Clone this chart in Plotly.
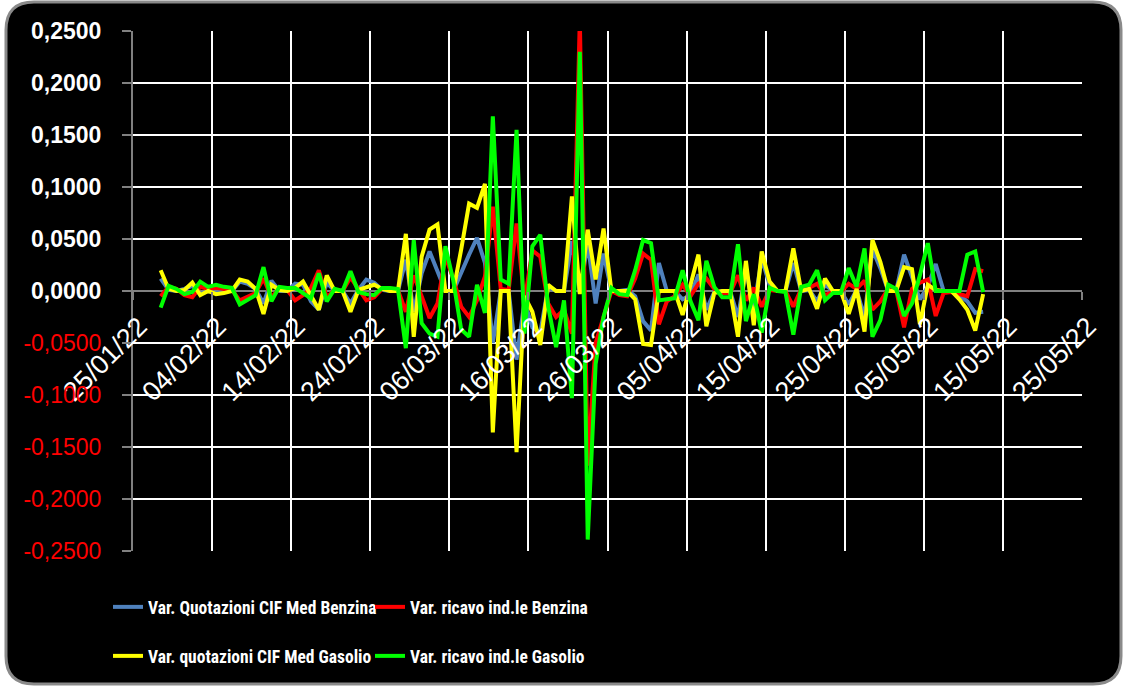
import pandas as pd
import plotly.graph_objects as go

# ---------------- data ----------------
dates = pd.date_range("2022-01-28", "2022-05-12", freq="D")

benzina_quot = [
    0.012, 0.001, 0.000,
    0.002, 0.005, -0.003, 0.000, -0.002, 0.000, 0.000,
    0.009, 0.007, 0.002, -0.012, 0.010, 0.000, 0.000,
    0.007, 0.006, -0.010, -0.018, 0.008, 0.000, 0.000,
    -0.012, 0.001, 0.011, 0.008, 0.001, 0.000, 0.000,
    0.030, -0.020, 0.017, 0.038, 0.020, 0.000, 0.000,
    0.018, 0.035, 0.051, 0.027, -0.050, 0.000, 0.000,
    -0.066, -0.010, -0.035, -0.040, 0.004, 0.000, 0.000,
    0.048, -0.002, 0.046, -0.012, 0.036, 0.000, 0.000,
    0.001, -0.005, -0.029, -0.038, 0.027, 0.000, 0.000,
    -0.008, -0.004, 0.016, -0.018, -0.001, 0.000, 0.000,
    -0.025, 0.020, -0.016, 0.031, 0.006, 0.000, 0.000,
    0.027, 0.000, 0.001, -0.010, 0.006, 0.000, 0.000,
    -0.013, 0.001, -0.025, 0.040, 0.022, 0.000, 0.000,
    0.035, 0.012, -0.008, 0.004, 0.026, 0.000, 0.000,
    -0.004, -0.010, -0.021, -0.020,
]

benzina_ricavo = [
    -0.005, 0.004, 0.002,
    -0.004, -0.006, 0.004, 0.002, 0.003, 0.002, 0.001,
    -0.009, -0.006, -0.002, 0.012, -0.006, 0.002, 0.001,
    -0.009, -0.004, 0.003, 0.020, -0.006, 0.001, 0.000,
    0.013, 0.002, -0.009, -0.006, 0.002, 0.002, 0.001,
    -0.020, 0.015, -0.005, -0.026, -0.012, 0.033, 0.012,
    -0.015, -0.025, -0.009, 0.014, 0.081, 0.002, 0.001,
    0.065, -0.010, 0.039, 0.033, -0.012, -0.025, -0.018,
    -0.041, 0.262, -0.168, -0.050, -0.025, 0.000, -0.004,
    -0.005, 0.012, 0.036, 0.030, -0.032, -0.010, -0.005,
    0.006, -0.005, 0.007, 0.012, 0.002, -0.002, -0.002,
    0.015, -0.009, 0.003, -0.015, 0.001, 0.000, 0.000,
    -0.015, 0.002, 0.003, 0.007, -0.004, -0.001, -0.001,
    0.007, 0.002, 0.010, -0.018, -0.010, 0.002, 0.001,
    -0.035, 0.002, 0.008, 0.011, -0.024, -0.002, -0.001,
    -0.003, -0.005, 0.021, 0.019,
]

gasolio_quot = [
    0.020, 0.002, 0.000,
    0.001, 0.008, -0.004, 0.000, -0.003, -0.002, 0.000,
    0.011, 0.009, 0.002, -0.022, 0.006, 0.001, 0.000,
    0.003, 0.009, -0.005, -0.018, 0.015, 0.000, 0.000,
    -0.020, 0.001, 0.004, 0.006, 0.002, 0.000, 0.000,
    0.055, -0.044, 0.033, 0.059, 0.064, 0.000, 0.000,
    0.040, 0.084, 0.080, 0.103, -0.136, 0.000, 0.000,
    -0.155, -0.005, -0.020, -0.052, 0.006, 0.000, 0.000,
    0.091, -0.003, 0.059, 0.011, 0.060, 0.000, 0.000,
    0.000, -0.008, -0.051, -0.052, 0.000, 0.000, 0.000,
    -0.023, 0.008, 0.035, -0.034, -0.002, 0.000, 0.000,
    -0.044, 0.029, -0.033, 0.038, 0.009, 0.000, 0.000,
    0.041, 0.000, 0.002, -0.017, 0.012, 0.000, 0.000,
    -0.022, 0.002, -0.039, 0.049, 0.028, 0.000, 0.000,
    0.023, 0.021, -0.032, 0.006, 0.001, 0.000, 0.000,
    -0.008, -0.018, -0.038, -0.003,
]

gasolio_ricavo = [
    -0.016, 0.005, 0.002,
    -0.003, -0.001, 0.009, 0.004, 0.006, 0.004, 0.003,
    -0.013, -0.008, -0.004, 0.023, -0.010, 0.004, 0.003,
    0.003, -0.002, -0.007, 0.017, -0.010, 0.002, 0.000,
    0.019, -0.001, -0.003, -0.004, 0.003, 0.003, 0.002,
    -0.055, 0.049, -0.031, -0.041, -0.044, 0.043, 0.010,
    -0.037, -0.044, 0.006, -0.021, 0.168, 0.011, 0.007,
    0.155, -0.041, 0.043, 0.054, -0.015, -0.054, -0.009,
    -0.103, 0.230, -0.239, -0.070, -0.025, 0.003, -0.003,
    -0.004, 0.020, 0.049, 0.046, -0.009, -0.008, -0.007,
    0.020, -0.010, -0.028, 0.029, 0.004, -0.006, -0.006,
    0.045, -0.029, -0.003, -0.040, 0.003, 0.000, -0.001,
    -0.042, 0.004, 0.006, 0.020, -0.009, -0.002, -0.002,
    0.022, 0.004, 0.041, -0.044, -0.028, 0.006, 0.002,
    -0.024, -0.012, 0.015, 0.046, 0.000, 0.000, 0.000,
    0.000, 0.035, 0.038, -0.001,
]

series_names = [
    "Var. Quotazioni CIF Med Benzina",
    "Var. ricavo ind.le Benzina",
    "Var. quotazioni CIF Med Gasolio",
    "Var. ricavo ind.le Gasolio",
]

y_tickvals = [0.25, 0.20, 0.15, 0.10, 0.05, 0.0, -0.05, -0.10, -0.15, -0.20, -0.25]
y_ticklabels = ["0,2500", "0,2000", "0,1500", "0,1000", "0,0500", "0,0000",
                "-0,0500", "-0,1000", "-0,1500", "-0,2000", "-0,2500"]

# ---------------- figure ----------------
W, H = 1128, 686
L, R, T, B = 133, 46, 31, 135

colors = ["#4F81BD", "#FF0000", "#FFFF00", "#00FF00"]
values = [benzina_quot, benzina_ricavo, gasolio_quot, gasolio_ricavo]
legends = ["legend", "legend2", "legend3", "legend4"]

fig = go.Figure()
for name, vals, col, lg in zip(series_names, values, colors, legends):
    fig.add_trace(go.Scatter(
        x=dates, y=vals, name=name, mode="lines",
        line=dict(color=col, width=4),
        xperiod=86400000, xperiodalignment="middle",
        legend=lg,
    ))

ticktext = []
for v, t in zip(y_tickvals, y_ticklabels):
    if v < 0:
        ticktext.append(f"<span style='color:#FF0000'>{t}</span>")
    else:
        ticktext.append(f"<b>{t}</b>")


def px2x(px):
    return (px - L) / (W - L - R)


def py2y(py):
    return (H - B - py) / (H - T - B)


x0, y0, x1, y1, r = 6, 2, 1121, 684, 28
pts = [
    ("M", [(x0 + r, y0)]), ("L", [(x1 - r, y0)]), ("Q", [(x1, y0), (x1, y0 + r)]),
    ("L", [(x1, y1 - r)]), ("Q", [(x1, y1), (x1 - r, y1)]),
    ("L", [(x0 + r, y1)]), ("Q", [(x0, y1), (x0, y1 - r)]),
    ("L", [(x0, y0 + r)]), ("Q", [(x0, y0), (x0 + r, y0)]),
]
path = ""
for cmd, ps in pts:
    path += cmd + " " + " ".join(f"{px2x(a):.5f},{py2y(b):.5f}" for a, b in ps) + " "
path += "Z"

fig.add_shape(type="path", path=path, xref="paper", yref="paper",
              fillcolor="black", line=dict(color="#8a8a8a", width=3), layer="below")

fig.update_layout(
    width=W, height=H,
    margin=dict(l=L, r=R, t=T, b=B, pad=0, autoexpand=False),
    paper_bgcolor="white",
    plot_bgcolor="black",
    showlegend=True,
    xaxis=dict(
        type="date",
        range=["2022-01-25", "2022-05-25"],
        tick0="2022-01-25", dtick=86400000 * 10,
        tickformat="%d/%m/%y", tickangle=-45,
        anchor="free", position=0.5, automargin=False,
        showgrid=True, gridcolor="white", gridwidth=1.5,
        showline=False, zeroline=False,
        ticks="outside", ticklen=8, tickwidth=1.5, tickcolor="#808080",
        ticklabelshift=6,
        tickfont=dict(family="Liberation Sans, Arial, sans-serif", size=27, color="white"),
    ),
    yaxis=dict(
        range=[-0.25, 0.25], automargin=False,
        tickmode="array", tickvals=y_tickvals, ticktext=ticktext,
        showgrid=True, gridcolor="white", gridwidth=1.5,
        zeroline=True, zerolinecolor="#808080", zerolinewidth=2,
        showline=True, linecolor="#808080", linewidth=2,
        ticks="outside", ticklen=9, tickwidth=1.5, tickcolor="#808080",
        ticklabelstandoff=16,
        tickfont=dict(family="Liberation Sans, Arial, sans-serif", size=23, color="white"),
    ),
)

legfont = dict(family="Roboto Condensed, Liberation Sans Narrow, Liberation Sans, sans-serif",
               size=17.5, color="white", weight="bold")
leg_pos = [(108, 607), (370, 607), (108, 656), (370, 656)]
for lg, (lx, ly) in zip(legends, leg_pos):
    fig.update_layout({lg: dict(
        xref="container", yref="container",
        x=lx / W, y=1 - ly / H, xanchor="left", yanchor="middle",
        bgcolor="rgba(0,0,0,0)", borderwidth=0, font=legfont,
        orientation="h", itemwidth=30,
    )})

fig.write_html(
    "out.html",
    config={"displayModeBar": False},
    post_script="document.body.style.margin='0px';document.body.style.overflow='hidden';",
)
